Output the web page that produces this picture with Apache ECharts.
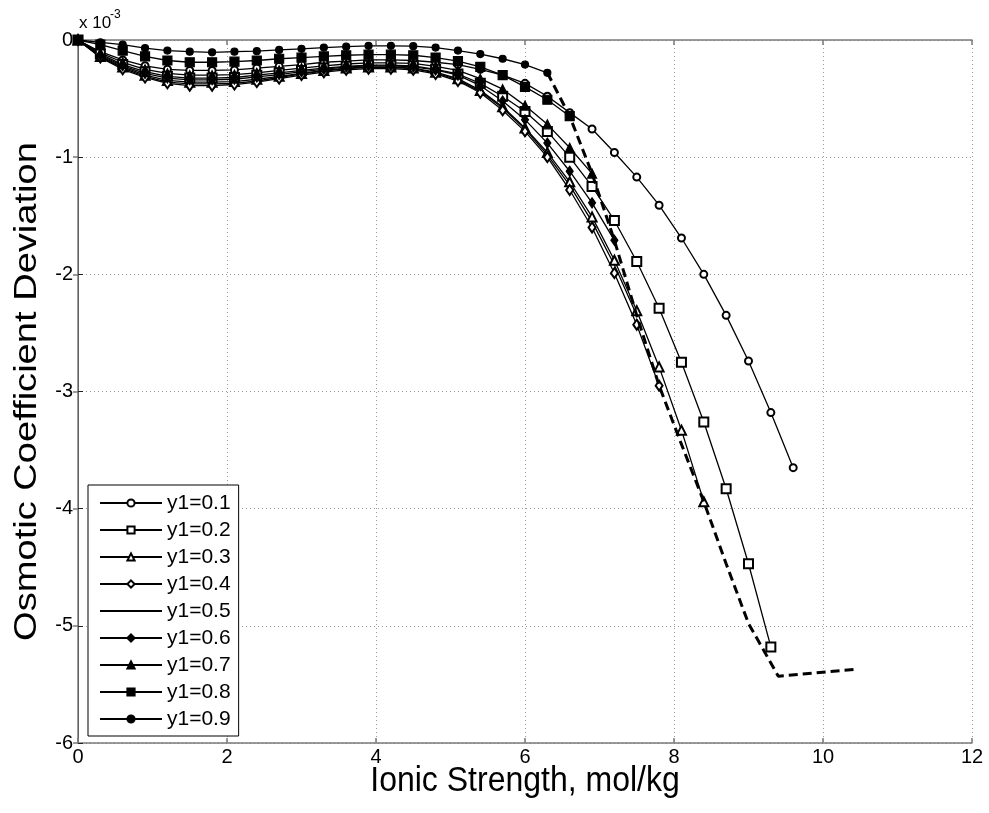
<!DOCTYPE html>
<html>
<head>
<meta charset="utf-8">
<script src="https://cdn.jsdelivr.net/npm/echarts@6/dist/echarts.min.js"></script>
<style>
  html, body { margin: 0; padding: 0; background: #fff; }
  #chart { width: 989px; height: 813px; }
</style>
</head>
<body>
<div id="chart"></div>
<script>
// Ionic strength grid (mol/kg) shared by all composition curves
const ionic = [0, 0.3, 0.6, 0.9, 1.2, 1.5, 1.8, 2.1, 2.4, 2.7, 3.0, 3.3, 3.6, 3.9, 4.2, 4.5,
               4.8, 5.1, 5.4, 5.7, 6.0, 6.3, 6.6, 6.9, 7.2, 7.5, 7.8, 8.1, 8.4, 8.7, 9.0, 9.3, 9.6];

// Osmotic coefficient deviation (x 10^-3) for each mole fraction y1
const dev01 = [0, -0.10, -0.17, -0.22, -0.25, -0.26, -0.26, -0.255, -0.24, -0.225, -0.21, -0.19, -0.18, -0.17, -0.17, -0.175,
               -0.19, -0.21, -0.25, -0.30, -0.37, -0.48, -0.62, -0.76, -0.96, -1.17, -1.41, -1.69, -2.00, -2.35, -2.74, -3.18, -3.65];
const dev02 = [0, -0.12, -0.21, -0.27, -0.31, -0.325, -0.325, -0.32, -0.30, -0.28, -0.26, -0.24, -0.225, -0.215, -0.215, -0.22,
               -0.25, -0.29, -0.37, -0.48, -0.61, -0.78, -1.00, -1.25, -1.54, -1.89, -2.29, -2.75, -3.26, -3.83, -4.47, -5.18];
const dev03 = [0, -0.14, -0.23, -0.30, -0.345, -0.36, -0.36, -0.355, -0.335, -0.31, -0.285, -0.26, -0.24, -0.23, -0.23, -0.24,
               -0.275, -0.33, -0.43, -0.57, -0.75, -0.96, -1.21, -1.51, -1.88, -2.31, -2.79, -3.33, -3.94];
const dev04 = [0, -0.15, -0.25, -0.32, -0.37, -0.39, -0.39, -0.38, -0.36, -0.33, -0.30, -0.275, -0.255, -0.245, -0.245, -0.255,
               -0.29, -0.35, -0.45, -0.60, -0.78, -1.00, -1.28, -1.60, -1.99, -2.43, -2.95];
const dev05 = [0, -0.145, -0.24, -0.31, -0.36, -0.375, -0.375, -0.37, -0.35, -0.32, -0.29, -0.265, -0.245, -0.235, -0.235, -0.245,
               -0.28, -0.34, -0.44, -0.58, -0.76, -0.98, -1.24, -1.55, -1.92, -2.35];
const dev06 = [0, -0.13, -0.22, -0.285, -0.325, -0.34, -0.34, -0.335, -0.315, -0.295, -0.27, -0.25, -0.23, -0.22, -0.22, -0.23,
               -0.255, -0.30, -0.39, -0.52, -0.68, -0.88, -1.12, -1.39, -1.71];
const dev07 = [0, -0.11, -0.19, -0.25, -0.285, -0.30, -0.30, -0.295, -0.28, -0.26, -0.24, -0.22, -0.205, -0.195, -0.195, -0.20,
               -0.225, -0.26, -0.33, -0.42, -0.56, -0.72, -0.92, -1.14];
const dev08 = [0, -0.04, -0.09, -0.14, -0.175, -0.19, -0.19, -0.185, -0.175, -0.16, -0.15, -0.14, -0.13, -0.125, -0.125, -0.13,
               -0.15, -0.18, -0.23, -0.30, -0.40, -0.51, -0.65];
const dev09 = [0, -0.02, -0.04, -0.07, -0.09, -0.10, -0.105, -0.10, -0.095, -0.085, -0.075, -0.065, -0.057, -0.05, -0.05, -0.053,
               -0.065, -0.09, -0.12, -0.16, -0.21, -0.28];

// Solubility-limit boundary (dashed)
const limitX = [6.3, 6.6, 6.9, 7.2, 7.5, 7.8, 8.1, 8.4, 8.7, 9.0, 9.4, 10.45];
const limitY = [-0.28, -0.65, -1.14, -1.71, -2.35, -2.95, -3.45, -3.94, -4.47, -4.98, -5.43, -5.37];

const labels = ['y1=0.1', 'y1=0.2', 'y1=0.3', 'y1=0.4', 'y1=0.5', 'y1=0.6', 'y1=0.7', 'y1=0.8', 'y1=0.9'];
const curves = [dev01, dev02, dev03, dev04, dev05, dev06, dev07, dev08, dev09];
const symbols = ['emptyCircle', 'emptyRect', 'emptyTriangle', 'emptyDiamond', 'none', 'diamond', 'triangle', 'rect', 'circle'];
const sizes = [7, 9, 9, [7, 10], 0, [7, 10], 9, 9, 7];

const xTicks = [0, 2, 4, 6, 8, 10, 12];
const yTicks = [-6, -5, -4, -3, -2, -1, 0];

const xTitle = 'Ionic Strength, mol/kg';
const yTitle = 'Osmotic Coefficient Deviation';

const FONT = '"Liberation Sans", Arial, Helvetica, sans-serif';
const frameColor = '#7a7a7a';
// axis titles are drawn slightly taller than wide
const stretchX = 1.1;
const stretchY = 1.19;

const series = curves.map((vals, k) => ({
  type: 'line',
  name: labels[k],
  data: vals.map((v, i) => [ionic[i], v]),
  symbol: symbols[k],
  symbolSize: sizes[k],
  showSymbol: symbols[k] !== 'none',
  lineStyle: { color: '#000', width: 1.3 },
  itemStyle: { color: '#000', borderColor: '#000', borderWidth: 1.2 },
  emphasis: { disabled: true },
  z: 3
}));

series.push({
  type: 'line',
  name: 'limit',
  data: limitX.map((x, i) => [x, limitY[i]]),
  symbol: 'none',
  lineStyle: { color: '#000', width: 3, type: [9, 5] },
  emphasis: { disabled: true },
  z: 4
});

const chart = echarts.init(document.getElementById('chart'), null, { renderer: 'canvas' });

const frameAxis = (pos) => ({
  axisLine: { show: true, lineStyle: { color: frameColor, width: 1.5 } },
  axisTick: { show: true, inside: true, length: 5, lineStyle: { color: frameColor, width: 1.5 } },
  axisLabel: { show: false },
  splitLine: { show: false },
  position: pos
});

const gridBox = { left: 78, right: 17, top: 40, bottom: 70 };
const W = 989, H = 813;
const plotCx = gridBox.left + (W - gridBox.left - gridBox.right) / 2;
const plotCy = gridBox.top + (H - gridBox.top - gridBox.bottom) / 2;

chart.setOption({
  animation: false,
  backgroundColor: '#fff',
  grid: Object.assign({ containLabel: false, outerBoundsMode: 'none' }, gridBox),
  xAxis: [
    {
      type: 'value', min: 0, max: 12, interval: 2,
      axisLine: { show: true, onZero: false, lineStyle: { color: frameColor, width: 1.5 } },
      axisTick: { show: true, inside: true, length: 5, lineStyle: { color: frameColor, width: 1.5 } },
      axisLabel: { fontSize: 20, color: '#000', fontFamily: FONT, margin: 4,
                   formatter: (v) => xTicks.includes(v) ? String(v) : '' },
      splitLine: { show: true, lineStyle: { color: '#999', type: [1, 3], width: 1 } }
    },
    Object.assign({ type: 'value', min: 0, max: 12, interval: 2 }, frameAxis('top'))
  ],
  yAxis: [
    {
      type: 'value', min: -6, max: 0, interval: 1,
      axisLine: { show: true, onZero: false, lineStyle: { color: '#222', width: 1 } },
      axisTick: { show: true, inside: true, length: 5, lineStyle: { color: '#222', width: 1 } },
      axisLabel: { fontSize: 20, color: '#000', fontFamily: FONT, margin: 5,
                   formatter: (v) => yTicks.includes(v) ? String(v) : '' },
      splitLine: { show: true, lineStyle: { color: '#999', type: [1, 3], width: 1 } }
    },
    Object.assign({ type: 'value', min: -6, max: 0, interval: 1 }, frameAxis('right'))
  ],
  legend: {
    data: labels.map((n) => n === 'y1=0.5'
      ? { name: n, itemStyle: { opacity: 0 } }
      : { name: n }),
    orient: 'vertical',
    left: 88, top: 485,
    padding: [7, 8, 6, 11],
    itemGap: 5,
    itemWidth: 62, itemHeight: 9,
    backgroundColor: '#fff',
    borderColor: '#000', borderWidth: 1,
    textStyle: { fontSize: 21, lineHeight: 22, color: '#000', fontFamily: FONT },
    selectedMode: false
  },
  graphic: [
    { type: 'text', left: 79, top: 15, style: { text: 'x 10', font: '17px ' + FONT, fill: '#000' } },
    { type: 'text', left: 110, top: 9, style: { text: '-3', font: '12px ' + FONT, fill: '#000' } },
    {
      type: 'text', x: plotCx, y: 781, scaleY: stretchX,
      style: { text: xTitle, font: '32px ' + FONT, fill: '#000', align: 'center', verticalAlign: 'middle' }
    },
    {
      type: 'text', x: 27, y: plotCy, rotation: Math.PI / 2, scaleX: stretchY,
      style: { text: yTitle, font: '32px ' + FONT, fill: '#000', align: 'center', verticalAlign: 'middle' }
    }
  ],
  series: series
});
</script>
</body>
</html>
